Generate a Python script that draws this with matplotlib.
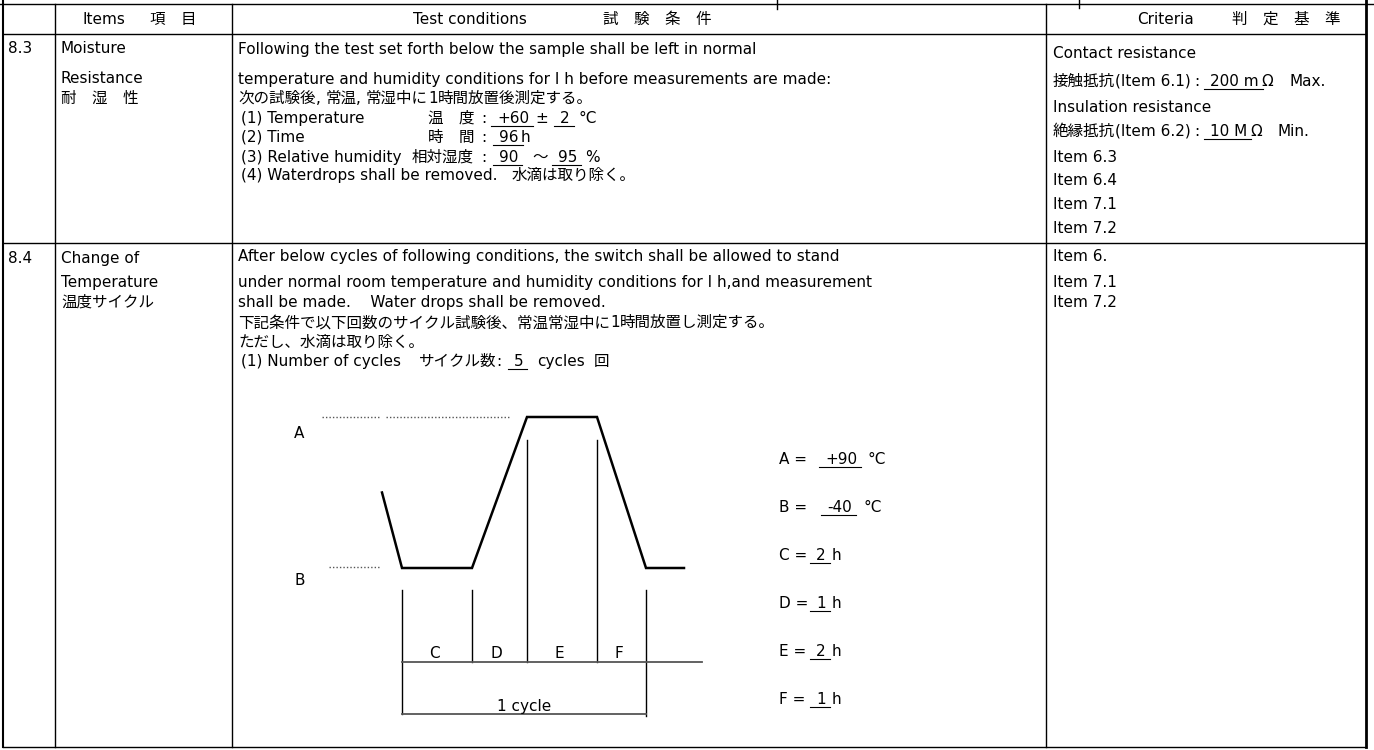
import matplotlib
matplotlib.use('Agg')
import matplotlib.pyplot as plt
from matplotlib.font_manager import FontProperties

# ---------------- data ----------------
header_items = ["Items", "項　目"]
header_test = ["Test conditions", "試　験　条　件"]
header_crit = ["Criteria", "判　定　基　準"]
item_numbers = ["8.3", "8.4"]
item_names_83 = ["Moisture", "Resistance", "耐　湿　性"]
item_names_84 = ["Change of", "Temperature", "温度サイクル"]

moist_temp = 60          # °C
moist_tol = 2            # °C
moist_hours = 96         # h
moist_rh = [90, 95]      # %
contact_res_max = 200    # mOhm
insul_res_min = 10       # MOhm
criteria_83_items = ["Item 6.3", "Item 6.4", "Item 7.1", "Item 7.2"]
criteria_84_items = ["Item 6.", "Item 7.1", "Item 7.2"]

n_cycles = 5
temp_A = 90              # °C high
temp_B = -40             # °C low
room_temp = 25           # °C start of profile (schematic)
phase_labels = ["C", "D", "E", "F"]
phase_hours = [2, 1, 2, 1]

# ---------------- figure ----------------
W, H = 1374, 750
fig = plt.figure(figsize=(W / 100, H / 100), dpi=100)
ax = fig.add_axes([0, 0, 1, 1])
ax.set_xlim(0, W)
ax.set_ylim(H, 0)
ax.axis('off')
renderer = fig.canvas.get_renderer()

SIZE_L, SIZE_J = 11.0, 11.2
_fp_cache = {}


def fprop(cjk, f=1.0):
    key = (cjk, round(f, 3))
    if key not in _fp_cache:
        if cjk:
            _fp_cache[key] = FontProperties(family=['Noto Sans CJK JP', 'DejaVu Sans'], size=SIZE_J * f)
        else:
            _fp_cache[key] = FontProperties(family=['DejaVu Sans'], size=SIZE_L * f)
    return _fp_cache[key]


def is_cjk(c):
    return ord(c) >= 0x2E80


def runs(s):
    out = []
    cur, kind = '', None
    for c in s:
        k = is_cjk(c)
        if kind is None:
            kind, cur = k, c
        elif c == ' ' or k == kind:
            cur += c
        else:
            out.append((kind, cur))
            cur, kind = c, k
    if cur:
        out.append((kind, cur))
    return out


def tw(s, fp):
    w1, _, _ = renderer.get_text_width_height_descent('|' + s + '|', fp, False)
    w0, _, _ = renderer.get_text_width_height_descent('||', fp, False)
    return w1 - w0


def width(s, f=1.0):
    return sum(tw(r, fprop(k, f)) for k, r in runs(s))


def put(y, pieces):
    """pieces: (x, text[, underline[, size factor]]); x as str '+n' = offset from previous end."""
    yb = y + 5
    x = 0.0
    for p in pieces:
        pos, s = p[0], p[1]
        ul = len(p) > 2 and p[2]
        f = p[3] if len(p) > 3 else 1.0
        x = x + float(pos) if isinstance(pos, str) else float(pos)
        x0 = x
        for kind, r in runs(s):
            fp = fprop(kind, f)
            ax.text(x, yb, r, fontproperties=fp, ha='left', va='baseline', color='black')
            x += tw(r, fp)
        if ul:
            ax.plot([x0 - 6, x + 4], [yb + 3, yb + 3], color='black', lw=0.8)


# ---------------- table grid ----------------
X_L, X_1, X_2, X_3, X_R = 3, 55, 232, 1046, 1366
Y_T, Y_H, Y_S, Y_B = 4, 34, 243, 747
ln = dict(color='black', lw=1.0)
ax.plot([0, W], [Y_T, Y_T], **ln)
ax.plot([X_L, X_R], [Y_H, Y_H], **ln)
ax.plot([X_L, X_R], [Y_S, Y_S], **ln)
ax.plot([X_L, X_R], [Y_B, Y_B], **ln)
for xv in (X_1, X_2, X_3):
    ax.plot([xv, xv], [Y_T, Y_B], **ln)
ax.plot([X_L, X_L], [0, Y_B], color='black', lw=1.5)
ax.plot([X_R, X_R], [0, Y_B], color='black', lw=2.0)
ax.plot([777, 777], [0, 9], **ln)
ax.plot([1079, 1079], [0, 8], **ln)

# ---------------- header ----------------
put(19, [(83, header_items[0]), (150, header_items[1])])
put(19, [(413, header_test[0]), (603, header_test[1])])
put(19, [(1137, header_crit[0]), (1232, header_crit[1])])

# ---------------- row 8.3 ----------------
TX = X_2 + 6
IX = TX + 3
put(48, [(8, item_numbers[0])])
for yy, s in zip([48, 78, 98], item_names_83):
    put(yy, [(X_1 + 6, s)])
put(49, [(TX, "Following the test set forth below the sample shall be left in normal")])
put(79, [(TX, "temperature and humidity conditions for I h before measurements are made:")])
put(98, [(TX, "次の試験後, 常温, 常湿中に1時間放置後測定する。")])

lbl_end = 474
colon_x = 481
put(118, [(IX, "(1) Temperature"), (lbl_end - width("温　度"), "温　度"), (colon_x, ":"),
          (497, f"+{moist_temp}", True), ('+6', "±"), ('+12', f"{moist_tol}", True), ('+9', "°C")])
put(137, [(IX, "(2) Time"), (lbl_end - width("時　間"), "時　間"), (colon_x, ":"),
          (499, f"{moist_hours}", True), ('+2', "h")])
put(157, [(IX, "(3) Relative humidity"), (lbl_end - width("相対湿度"), "相対湿度"),
          (colon_x, ":"), (499, f"{moist_rh[0]}", True), ('+14', "～"),
          ('+10', f"{moist_rh[1]}", True), ('+8', "%")])
put(175, [(IX, "(4) Waterdrops shall be removed."), ('+14', "水滴は取り除く。")])

CX = X_3 + 7
put(53, [(CX, "Contact resistance")])
put(81, [(CX, "接触抵抗(Item 6.1)"), ('+4', ":"), ('+10', f"{contact_res_max} m", True),
         ('+3', "Ω"), ('+16', "Max.")])
put(107, [(CX, "Insulation resistance")])
put(131, [(CX, "絶縁抵抗(Item 6.2)"), ('+4', ":"), ('+10', f"{insul_res_min} M", True),
          ('+3', "Ω"), ('+16', "Min.")])
for yy, s in zip([157, 180, 204, 228], criteria_83_items):
    put(yy, [(CX, s)])

# ---------------- row 8.4 ----------------
put(258, [(8, item_numbers[1])])
for yy, s in zip([258, 282, 302], item_names_84):
    put(yy, [(X_1 + 6, s)])
put(256, [(TX, "After below cycles of following conditions, the switch shall be allowed to stand")])
put(282, [(TX, "under normal room temperature and humidity conditions for I h,and measurement")])
put(302, [(TX, "shall be made.    Water drops shall be removed.")])
put(322, [(TX, "下記条件で以下回数のサイクル試験後、常温常湿中に1時間放置し測定する。")])
put(342, [(TX, "ただし、水滴は取り除く。")])
put(361, [(IX, "(1) Number of cycles"), ('+18', "サイクル数:"),
          ('+12', f"{n_cycles}", True), ('+14', "cycles"), ('+9', "回")])
for yy, s in zip([256, 282, 302], criteria_84_items):
    put(yy, [(CX, s)])

# ---------------- temperature cycle diagram ----------------
Y_A, Y_Bl = 417, 568


def ty(t):
    return Y_Bl + (t - temp_B) * (Y_A - Y_Bl) / (temp_A - temp_B)


x_start, ramp_in = 382, 20
phase_px = [70, 55, 70, 49]
tail = 38
bounds = [x_start + ramp_in]
for wdt in phase_px:
    bounds.append(bounds[-1] + wdt)
# C flat at B, D ramp up to A, E flat at A, F ramp down to B
px = [x_start, bounds[0], bounds[1], bounds[2], bounds[3], bounds[4], bounds[4] + tail]
py = [ty(room_temp), ty(temp_B), ty(temp_B), ty(temp_A), ty(temp_A), ty(temp_B), ty(temp_B)]
ax.plot(px, py, color='black', lw=1.8, solid_joinstyle='miter')

dot = dict(color='#555555', lw=1.0, linestyle=(0, (1, 1.5)))
ax.plot([322, 380], [ty(temp_A), ty(temp_A)], **dot)
ax.plot([386, 510], [ty(temp_A), ty(temp_A)], **dot)
ax.plot([329, 380], [ty(temp_B) - 1, ty(temp_B) - 1], **dot)
put(433, [(294, "A")])
put(580, [(294, "B")])

Y_PH, Y_CY = 662, 714
vt = dict(color='black', lw=1.0)
ax.plot([bounds[0], bounds[0]], [590, Y_CY], **vt)
ax.plot([bounds[1], bounds[1]], [590, Y_PH], **vt)
ax.plot([bounds[2], bounds[2]], [440, Y_PH], **vt)
ax.plot([bounds[3], bounds[3]], [440, Y_PH], **vt)
ax.plot([bounds[4], bounds[4]], [590, Y_CY + 2], **vt)
ax.plot([bounds[0], bounds[4] + 56], [Y_PH, Y_PH], color='#555555', lw=1.3)
ax.plot([bounds[0], bounds[4]], [Y_CY, Y_CY], color='#555555', lw=1.3)
for i, lab in enumerate(phase_labels):
    xc = (bounds[i] + bounds[i + 1]) / 2
    ax.text(xc - 3, Y_PH - 4, lab, fontproperties=fprop(False), ha='center', va='baseline')
ax.text((bounds[0] + bounds[4]) / 2, Y_CY - 3, "1 cycle", fontproperties=fprop(False),
        ha='center', va='baseline')

put(459, [(779, "A ="), (825, f"+{temp_A}", True), ('+10', "°C")])
put(507, [(779, "B ="), (827, f"{temp_B}", True), ('+12', "°C")])
for i, lab in enumerate(phase_labels):
    put(555 + 48 * i, [(779, f"{lab} ="), (816, f"{phase_hours[i]}", True), ('+6', "h")])

fig.savefig('out.png', dpi=100)
